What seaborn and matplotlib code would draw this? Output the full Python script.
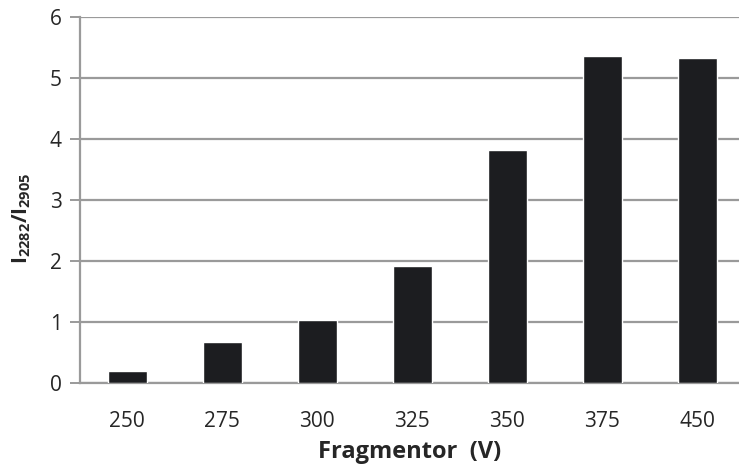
import numpy as np
import pandas as pd
import matplotlib
matplotlib.use("Agg")
import matplotlib.pyplot as plt
import seaborn as sns

# data
fragmentor = ["250", "275", "300", "325", "350", "375", "450"]
ratio = [0.20, 0.67, 1.03, 1.92, 3.82, 5.35, 5.33]

df = pd.DataFrame({"Fragmentor": fragmentor, "ratio": ratio})

sns.set_style("white")
plt.rcParams["font.family"] = ["Open Sans", "DejaVu Sans"]
plt.rcParams["mathtext.fontset"] = "custom"
plt.rcParams["mathtext.rm"] = "Open Sans"
plt.rcParams["mathtext.bf"] = "Open Sans:bold"

fig = plt.figure(figsize=(7.39, 4.66), dpi=100)
ax = fig.add_axes([0.108, 0.178, 0.892, 0.786])

sns.barplot(data=df, x="Fragmentor", y="ratio", color="#1c1d20",
            saturation=1, width=0.41, ax=ax, zorder=3)

ax.set_ylim(0, 6)
ax.set_xlim(-0.5, 6.44)
ax.set_yticks(range(0, 7))
ax.yaxis.grid(True, color="#9a9a9a", linewidth=1.6, zorder=0)
ax.set_axisbelow(True)

for side in ["top", "right"]:
    ax.spines[side].set_visible(False)
for side in ["left", "bottom"]:
    ax.spines[side].set_color("#9a9a9a")
    ax.spines[side].set_linewidth(1.6)

# x ticks sit between categories
ax.set_xticks(np.arange(-0.5, 6.5, 1), minor=True)
ax.tick_params(axis="x", which="major", length=0, pad=20, labelsize=15)
ax.tick_params(axis="x", which="minor", length=6, width=1.4, color="#9a9a9a", direction="out")
ax.tick_params(axis="y", length=7, width=1.4, color="#9a9a9a", direction="out",
               left=True, labelsize=15, pad=6)

ax.set_xlabel("Fragmentor  (V)", fontsize=17, fontweight="bold", labelpad=6)
ax.set_ylabel(r"$\mathbf{I_{2282}/I_{2905}}$", fontsize=15)
ax.yaxis.set_label_coords(-0.071, 0.45)

fig.savefig("out.png", dpi=100)
